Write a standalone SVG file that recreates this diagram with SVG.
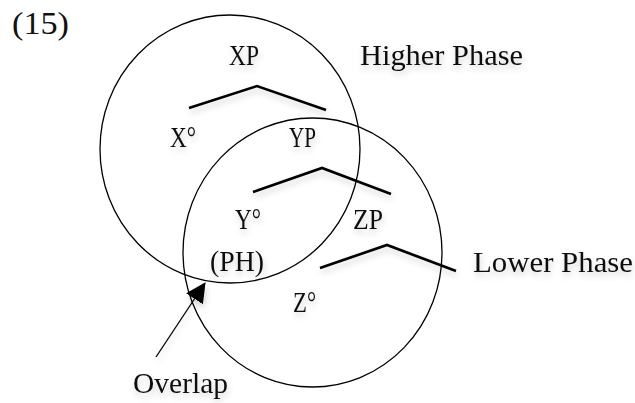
<svg xmlns="http://www.w3.org/2000/svg" width="635" height="403" viewBox="0 0 635 403">
  <style>
    .t { font-family: "Liberation Serif", "DejaVu Serif", serif; font-size: 28.5px; fill: #111; }
    .big { font-size: 31px; }
    .phase { fill: none; stroke: #000; stroke-width: 1.3; }
    .branch { fill: none; stroke: #000; stroke-width: 2.6; stroke-linejoin: miter; }
    .arrow { fill: none; stroke: #000; stroke-width: 1.3; }
  </style>
  <defs>
    <filter id="sh" x="-20%" y="-20%" width="140%" height="160%">
      <feDropShadow dx="1" dy="4" stdDeviation="3" flood-color="#000" flood-opacity="0.18"/>
    </filter>
    <marker id="ah" viewBox="0 0 20 20" refX="19" refY="10" markerWidth="20" markerHeight="20" markerUnits="userSpaceOnUse" orient="auto">
      <path d="M0,0 L20,10 L0,20 Z" fill="#000"/>
    </marker>
  </defs>
  <rect width="635" height="403" fill="#fff"/>

  <g id="label-15"><text class="t big" x="12" y="34" textLength="57" lengthAdjust="spacingAndGlyphs">(15)</text></g>

  <g id="higher-phase">
    <ellipse class="phase" cx="230" cy="149" rx="130" ry="134"/>
  </g>
  <g id="lower-phase">
    <ellipse class="phase" cx="312.5" cy="252.5" rx="129.5" ry="134.5"/>
  </g>

  <g id="connectors" filter="url(#sh)">
    <polyline class="branch" points="189,108 257,86 326,110"/>
    <polyline class="branch" points="253,192 322,168 391,194"/>
    <polyline class="branch" points="320,268 387,245 456,271"/>
    <line class="arrow" x1="156" y1="357" x2="205" y2="283" marker-end="url(#ah)"/>
  </g>

  <g filter="url(#sh)">
    <g id="XP"><text class="t" x="229" y="65" textLength="30" lengthAdjust="spacingAndGlyphs">XP</text></g>
    <g id="higher-phase-label"><text class="t" x="360" y="65" textLength="163" lengthAdjust="spacingAndGlyphs">Higher Phase</text></g>
    <g id="X0"><text class="t" x="170" y="147" textLength="26" lengthAdjust="spacingAndGlyphs">X°</text></g>
    <g id="YP"><text class="t" x="289" y="147" textLength="27" lengthAdjust="spacingAndGlyphs">YP</text></g>
    <g id="Y0"><text class="t" x="235" y="229" textLength="26" lengthAdjust="spacingAndGlyphs">Y°</text></g>
    <g id="ZP"><text class="t" x="353" y="229" textLength="30" lengthAdjust="spacingAndGlyphs">ZP</text></g>
    <g id="PH"><text class="t" x="210" y="271" textLength="54" lengthAdjust="spacingAndGlyphs">(PH)</text></g>
    <g id="Z0"><text class="t" x="293" y="312" textLength="23" lengthAdjust="spacingAndGlyphs">Z°</text></g>
    <g id="lower-phase-label"><text class="t" x="473" y="272" textLength="160" lengthAdjust="spacingAndGlyphs">Lower Phase</text></g>
    <g id="overlap-label"><text class="t" x="133" y="393" textLength="95" lengthAdjust="spacingAndGlyphs">Overlap</text></g>
  </g>
</svg>
